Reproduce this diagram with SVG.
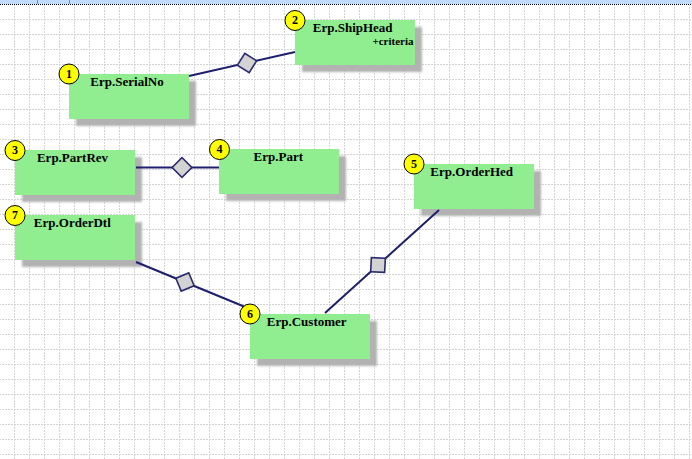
<svg xmlns="http://www.w3.org/2000/svg" width="692" height="459" viewBox="0 0 692 459">
<style>
.box{fill:#90ee90;}
.shadow{fill:#b2b2b2;filter:url(#blur);}
.lbl{font-family:"Liberation Serif","Times New Roman",serif;font-weight:bold;font-size:13px;fill:#000;text-anchor:middle;}
.sub{font-family:"Liberation Serif","Times New Roman",serif;font-weight:bold;font-size:11px;fill:#000;text-anchor:end;}
.badge{fill:#ffff00;stroke:#000;stroke-width:1;}
.num{font-family:"Liberation Serif","Times New Roman",serif;font-weight:bold;font-size:12px;fill:#000;text-anchor:middle;}
.conn{stroke:#1e1e6e;stroke-width:2;fill:none;}
.dia{fill:#d3d3d3;stroke:#2a2a6e;stroke-width:1.6;}
</style>
<defs>
<filter id="blur" x="-10%" y="-20%" width="120%" height="140%"><feGaussianBlur stdDeviation="1"/></filter>
<pattern id="grid" patternUnits="userSpaceOnUse" x="14" y="4" width="15" height="15">
<line x1="0.5" y1="0" x2="0.5" y2="15" stroke="#d4d4d4" stroke-width="1" stroke-dasharray="2,1"/>
<line x1="0" y1="0.5" x2="15" y2="0.5" stroke="#d4d4d4" stroke-width="1" stroke-dasharray="2,1"/>
</pattern>
<rect id="dia" x="-7" y="-7" width="14" height="14"/>
</defs>
<rect x="0" y="0" width="692" height="459" fill="#ffffff"/>
<rect x="0" y="5" width="692" height="454" fill="url(#grid)"/>
<rect x="0" y="0" width="692" height="4" fill="#c2dafc"/>
<line x1="0" y1="4.5" x2="692" y2="4.5" stroke="#000" stroke-width="1" stroke-dasharray="1,1"/>
<line x1="37.5" y1="0" x2="37.5" y2="4" stroke="#909090"/>
<line x1="69.5" y1="0" x2="69.5" y2="4" stroke="#909090"/>

<g id="node1">
<rect class="shadow" x="76" y="81" width="120" height="45"/>
<rect class="box" x="69" y="74" width="120" height="45"/>
<text class="lbl" x="127" y="85.5">Erp.SerialNo</text>
<circle class="badge" cx="69" cy="74" r="10"/>
<text class="num" x="69" y="77.5">1</text>
</g>

<g id="node2">
<rect class="shadow" x="302" y="27" width="120" height="45"/>
<rect class="box" x="295" y="20" width="120" height="45"/>
<text class="lbl" x="352.7" y="31.5">Erp.ShipHead</text>
<text class="sub" x="413.5" y="45">+criteria</text>
<circle class="badge" cx="295" cy="20.5" r="10"/>
<text class="num" x="295" y="24">2</text>
</g>

<g id="node3">
<rect class="shadow" x="22" y="157" width="120" height="45"/>
<rect class="box" x="15" y="150" width="120" height="45"/>
<text class="lbl" x="72.5" y="161.5">Erp.PartRev</text>
<circle class="badge" cx="15" cy="150.5" r="10"/>
<text class="num" x="15" y="154">3</text>
</g>

<g id="node4">
<rect class="shadow" x="226" y="156" width="120" height="45"/>
<rect class="box" x="219" y="149" width="120" height="45"/>
<text class="lbl" x="278.3" y="160.5">Erp.Part</text>
<circle class="badge" cx="219.5" cy="149.5" r="10"/>
<text class="num" x="219.5" y="153">4</text>
</g>

<g id="node5">
<rect class="shadow" x="421" y="171" width="120" height="45"/>
<rect class="box" x="414" y="164" width="120" height="45"/>
<text class="lbl" x="471.7" y="175.5">Erp.OrderHed</text>
<circle class="badge" cx="414" cy="164" r="10"/>
<text class="num" x="414" y="167.5">5</text>
</g>

<g id="node6">
<rect class="shadow" x="257" y="321" width="120" height="45"/>
<rect class="box" x="250" y="314" width="120" height="45"/>
<text class="lbl" x="306.7" y="325.5">Erp.Customer</text>
<circle class="badge" cx="250" cy="314" r="10"/>
<text class="num" x="250" y="317.5">6</text>
</g>

<g id="node7">
<rect class="shadow" x="22" y="222" width="120" height="45"/>
<rect class="box" x="15" y="215" width="120" height="45"/>
<text class="lbl" x="72.3" y="226.5">Erp.OrderDtl</text>
<circle class="badge" cx="15" cy="215.5" r="10"/>
<text class="num" x="15" y="219">7</text>
</g>

<g id="connectors">
<line class="conn" x1="189" y1="76" x2="295" y2="52"/>
<use href="#dia" class="dia" transform="translate(247,63) rotate(32.2)"/>
<line class="conn" x1="136" y1="167.5" x2="219" y2="167.5"/>
<use href="#dia" class="dia" transform="translate(182,167.5) rotate(45)"/>
<line class="conn" x1="136" y1="262" x2="244" y2="306.5"/>
<use href="#dia" class="dia" transform="translate(185,282) rotate(67.4)"/>
<line class="conn" x1="439" y1="210" x2="325" y2="313"/>
<use href="#dia" class="dia" transform="translate(378,265) rotate(2.9)"/>
</g>
</svg>
